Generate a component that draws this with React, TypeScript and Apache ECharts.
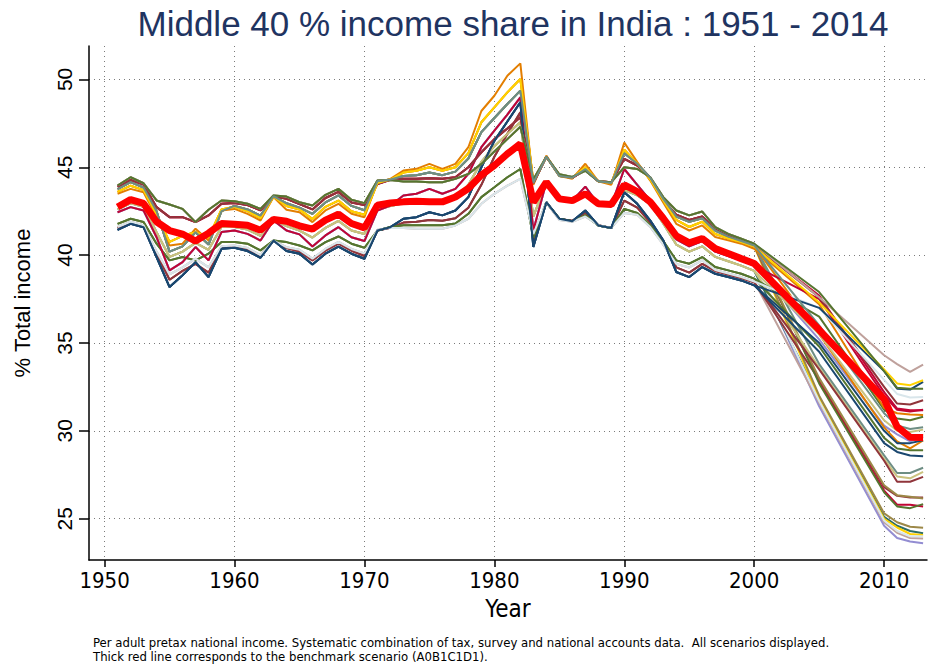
import React, { useEffect, useRef } from "react";
import * as echarts from "echarts";

// Years of the pre-2000 profiles, and of the post-2000 tails
const profileYears = [
  1951, 1952, 1953, 1954, 1955, 1956, 1957, 1958, 1959, 1960,
  1961, 1962, 1963, 1964, 1965, 1966, 1967, 1968, 1969, 1970,
  1971, 1972, 1973, 1974, 1975, 1976, 1977, 1978, 1979, 1980,
  1981, 1982, 1983, 1984, 1985, 1986, 1987, 1988, 1989, 1990,
  1991, 1992, 1993, 1994, 1995, 1996, 1997, 1998, 1999, 2000,
];
const tailYears = [2005, 2010, 2011, 2012, 2013];

// Scenario paths 1951-2000
const upperGreen = [
  43.96, 44.43, 44.09, 43.11, 42.88, 42.63, 41.88, 42.58, 43.11, 43.07,
  42.92, 42.63, 43.39, 43.33, 43.01, 42.82, 43.43, 43.77, 43.15, 42.96,
  44.24, 44.28, 44.19, 44.19, 44.15, 44.15, 44.34, 44.62, 45.19, 45.9,
  46.6, 47.3, 44.3, 45.6, 44.6, 44.45, 44.8, 44.2, 44.15, 45.0,
  44.9, 44.43, 43.3, 42.54, 42.26, 42.48, 41.59, 41.21, 40.93, 40.65,
];
const upperCranberry = [
  43.9, 44.28, 44.02, 42.73, 42.16, 42.16, 41.88, 42.26, 42.92, 42.96,
  42.85, 42.55, 43.35, 43.2, 42.9, 42.6, 43.25, 43.6, 43.0, 42.85,
  44.05, 44.28, 44.34, 44.34, 44.38, 44.34, 44.43, 45.0, 45.85, 46.6,
  47.2, 47.84, 44.1, 45.6, 44.55, 44.4, 44.85, 44.2, 44.15, 45.48,
  45.1, 44.4, 43.1, 42.3, 42.0, 42.2, 41.45, 41.1, 40.85, 40.55,
];
const upperOrange = [
  43.49, 43.77, 43.58, 42.16, 40.55, 40.65, 41.5, 40.83, 42.54, 42.63,
  42.35, 41.97, 43.3, 42.58, 42.44, 41.88, 42.54, 42.92, 42.35, 42.16,
  44.15, 44.34, 44.81, 44.91, 45.19, 44.91, 45.19, 46.14, 48.2, 49.07,
  50.21, 50.91, 44.0, 45.66, 44.5, 44.35, 45.2, 44.2, 44.0, 46.4,
  45.3, 44.24, 43.0, 41.78, 41.4, 41.69, 41.03, 40.84, 40.65, 40.36,
];
const upperGold = [
  43.6, 43.95, 43.7, 42.3, 40.75, 41.1, 41.3, 41.0, 42.6, 42.75,
  42.5, 42.1, 43.32, 42.8, 42.6, 42.05, 42.75, 43.1, 42.5, 42.3,
  44.1, 44.3, 44.7, 44.8, 45.0, 44.8, 45.0, 45.8, 47.56, 48.41,
  49.26, 50.02, 44.2, 45.6, 44.55, 44.4, 45.0, 44.2, 44.1, 46.0,
  45.2, 44.3, 43.1, 42.0, 41.6, 41.9, 41.2, 40.95, 40.75, 40.5,
];
const upperTeal = [
  43.75, 44.15, 43.85, 42.5, 40.2, 40.5, 41.3, 40.6, 42.5, 42.8,
  42.6, 42.25, 43.35, 42.95, 42.7, 42.35, 43.0, 43.4, 42.8, 42.55,
  44.2, 44.3, 44.5, 44.55, 44.7, 44.55, 44.75, 45.5, 47.0, 47.8,
  48.6, 49.36, 44.1, 45.6, 44.5, 44.4, 44.9, 44.2, 44.1, 45.8,
  45.2, 44.4, 43.2, 42.2, 41.9, 42.1, 41.4, 41.05, 40.8, 40.55,
];
const benchmark = [
  42.74, 43.16, 42.94, 41.9, 41.4, 41.2, 40.8, 41.25, 41.8, 41.76,
  41.7, 41.42, 42.03, 41.93, 41.67, 41.48, 41.99, 42.33, 41.8, 41.55,
  42.84, 42.97, 43.03, 43.07, 43.03, 43.03, 43.31, 43.79, 44.55, 45.1,
  45.76, 46.33, 43.01, 44.15, 43.2, 43.1, 43.49, 42.92, 42.88, 44.0,
  43.62, 43.02, 42.1, 41.1, 40.7, 40.94, 40.37, 40.09, 39.8, 39.52,
];
const middleLavender = [
  42.44, 42.73, 42.54, 41.02, 39.13, 39.6, 40.46, 39.7, 41.31, 41.4,
  41.21, 40.83, 41.97, 41.4, 41.18, 40.49, 41.12, 41.59, 41.02, 40.8,
  42.54, 42.82, 43.39, 43.49, 43.77, 43.49, 43.77, 44.62, 46.14, 47.08,
  48.0, 48.98, 41.4, 44.15, 43.2, 43.1, 43.9, 42.9, 42.85, 44.9,
  44.0, 43.1, 42.0, 40.9, 40.5, 40.8, 40.2, 39.95, 39.7, 39.4,
];
const middleKhaki = [
  42.6, 42.95, 42.75, 41.3, 39.9, 40.2, 40.7, 40.3, 41.6, 41.6,
  41.45, 41.1, 42.0, 41.65, 41.4, 41.0, 41.55, 41.95, 41.4, 41.2,
  42.6, 42.8, 42.95, 43.0, 43.05, 43.0, 43.3, 44.0, 45.3, 46.2,
  46.9, 47.56, 42.2, 44.1, 43.15, 43.05, 43.4, 42.9, 42.85, 43.7,
  43.4, 42.9, 41.8, 40.6, 40.2, 40.5, 39.9, 39.65, 39.4, 39.1,
];
const lowerGreen = [
  41.78, 42.07, 41.88, 40.65, 39.7, 39.89, 39.7, 40.08, 40.74, 40.74,
  40.65, 40.27, 40.83, 40.74, 40.55, 40.27, 40.74, 41.06, 40.65, 40.42,
  41.4, 41.6, 41.7, 41.7, 41.7, 41.7, 41.8, 42.35, 43.3, 43.86,
  44.43, 44.9, 41.0, 43.0, 42.07, 41.93, 42.26, 41.69, 41.54, 42.63,
  42.4, 41.69, 40.8, 39.7, 39.51, 39.89, 39.32, 39.13, 38.94, 38.66,
];
const lowerNavy = [
  41.44, 41.78, 41.59, 39.89, 38.18, 38.85, 39.6, 38.75, 40.36, 40.42,
  40.23, 39.85, 40.83, 40.23, 40.08, 39.47, 40.08, 40.49, 40.08, 39.79,
  41.4, 41.59, 42.07, 42.16, 42.44, 42.26, 42.54, 43.3, 45.0, 46.5,
  47.6, 48.7, 40.46, 43.01, 42.07, 41.93, 42.54, 41.69, 41.54, 43.58,
  42.92, 41.97, 40.84, 39.04, 38.75, 39.32, 38.94, 38.75, 38.56, 38.28,
];
const lowerMaroon = [
  41.55, 41.85, 41.65, 40.1, 38.6, 39.1, 39.5, 39.0, 40.45, 40.5,
  40.35, 39.95, 40.83, 40.4, 40.2, 39.7, 40.25, 40.65, 40.25, 39.95,
  41.4, 41.55, 41.85, 41.9, 42.0, 41.95, 42.1, 42.7, 44.0, 45.6,
  46.9, 48.13, 40.8, 43.0, 42.05, 41.95, 42.4, 41.7, 41.55, 43.1,
  42.7, 41.85, 40.8, 39.3, 39.0, 39.5, 39.1, 38.9, 38.7, 38.45,
];
const lowerPink = [
  41.6, 41.9, 41.7, 40.2, 38.9, 39.3, 39.8, 39.3, 40.5, 40.55,
  40.4, 40.0, 40.83, 40.45, 40.3, 39.8, 40.35, 40.75, 40.35, 40.1,
  41.45, 41.55, 41.54, 41.5, 41.5, 41.5, 41.69, 42.07, 42.92, 43.49,
  43.95, 44.34, 41.2, 43.0, 42.0, 41.9, 42.2, 41.7, 41.55, 42.4,
  42.3, 41.6, 40.6, 39.5, 39.3, 39.7, 39.15, 38.95, 38.75, 38.5,
];

// Scenario colours (Stata s2color palette)
const navy = "#1a476f";
const maroon = "#90353b";
const green = "#55752f";
const orange = "#e37e00";
const teal = "#6e8e84";
const cranberry = "#c10534";
const lavender = "#938dd2";
const khaki = "#cac27e";
const emerald = "#2d6d66";
const brown = "#9c8847";
const erose = "#bfa19c";
const gold = "#ffd200";
const bluishgray = "#d9e6eb";

// Each alternative scenario: colour, its 1951-2000 path, its 2005-2013 values
const scenarioColors = [
  lavender, erose, emerald, gold, brown, bluishgray, maroon, cranberry,
  green, brown, khaki, teal, maroon, navy, green, lavender,
  orange, navy, khaki, green, orange, cranberry, cranberry, maroon,
  bluishgray, navy, gold, erose, green, teal,
];
const scenarioPaths = [
  middleLavender, lowerPink, middleKhaki, upperGold, upperTeal, middleLavender, lowerMaroon, upperCranberry,
  upperGreen, upperTeal, middleKhaki, upperTeal, lowerMaroon, lowerNavy, lowerGreen, middleLavender,
  upperGold, lowerNavy, middleKhaki, lowerGreen, upperOrange, middleLavender, upperCranberry, upperCranberry,
  lowerPink, lowerNavy, upperGold, upperGreen, upperGreen, upperTeal,
];
const scenarioTails = [
  [31.4, 24.6, 23.9, 23.7, 23.6],
  [31.6, 24.8, 24.2, 23.9, 23.88],
  [31.9, 25.1, 24.6, 24.3, 24.17],
  [31.8, 25.0, 24.5, 24.13, 24.07],
  [32.0, 25.3, 24.8, 24.54, 24.49],
  [31.7, 24.9, 24.3, 24.0, 24.0],
  [32.9, 26.8, 26.3, 26.2, 26.2],
  [32.8, 26.6, 25.8, 25.8, 25.7],
  [32.7, 26.5, 25.7, 25.6, 25.83],
  [33.0, 26.9, 26.34, 26.25, 26.15],
  [33.6, 28.4, 27.4, 27.3, 27.67],
  [33.8, 28.6, 27.6, 27.6, 27.9],
  [33.5, 28.3, 27.1, 27.1, 27.38],
  [34.5, 29.3, 28.8, 28.6, 28.56],
  [34.8, 29.6, 29.0, 28.9, 28.9],
  [35.2, 30.3, 29.8, 29.4, 29.66],
  [35.5, 30.2, 29.4, 29.0, 29.45],
  [35.0, 30.0, 29.3, 29.3, 29.47],
  [35.5, 30.6, 30.0, 29.94, 30.07],
  [36.5, 31.2, 30.7, 30.6, 30.8],
  [37.2, 31.3, 31.0, 30.93, 30.9],
  [37.5, 32.0, 31.2, 31.1, 31.2],
  [37.7, 32.2, 31.27, 31.17, 31.17],
  [37.6, 32.5, 31.55, 31.5, 31.74],
  [37.0, 32.9, 32.1, 31.9, 31.93],
  [37.0, 33.4, 32.4, 32.35, 32.78],
  [37.3, 33.5, 32.7, 32.6, 32.88],
  [37.6, 34.3, 33.8, 33.35, 33.77],
  [37.9, 33.4, 32.45, 32.4, 32.4],
  [36.0, 31.0, 30.3, 30.1, 30.2],
];
const benchmarkTail = [35.75, 31.8, 30.23, 29.64, 29.62];

const xTicks = [1950, 1960, 1970, 1980, 1990, 2000, 2010];
const yTicks = [25, 30, 35, 40, 45, 50];

const titleText = "Middle 40 % income share in India : 1951 - 2014";
const noteLines = [
  "Per adult pretax national income. Systematic combination of tax, survey and national accounts data.  All scenarios displayed.",
  "Thick red line corresponds to the benchmark scenario (A0B1C1D1).",
];

function toPoints(path: number[], tail: number[]) {
  const pts: [number, number][] = profileYears.map((y, i) => [y, path[i]]);
  tailYears.forEach((y, i) => pts.push([y, tail[i]]));
  return pts;
}

const FONT_NARROW = "'Liberation Sans Narrow', 'Arial Narrow', 'DejaVu Sans Condensed', sans-serif";
const FONT_REG = "'Liberation Sans', Arial, Helvetica, sans-serif";

export default function App() {
  const ref = useRef<HTMLDivElement>(null);
  useEffect(() => {
    if (!ref.current) return;
    const chart = echarts.init(ref.current, undefined, { renderer: "svg" });
    const series: any[] = scenarioColors.map((c, i) => ({
      type: "line",
      data: toPoints(scenarioPaths[i], scenarioTails[i]),
      showSymbol: false,
      symbol: "none",
      lineStyle: { color: c, width: 2 },
      silent: true,
      z: 2,
    }));
    series.push({
      type: "line",
      data: toPoints(benchmark, benchmarkTail),
      showSymbol: false,
      symbol: "none",
      lineStyle: { color: "#ff0000", width: 7 },
      silent: true,
      z: 3,
    });
    const gridLine = { show: true, lineStyle: { color: "#7a7a7a", width: 1, type: [1, 4] as any } };
    chart.setOption({
      animation: false,
      backgroundColor: "#ffffff",
      grid: { left: 89, right: 5, top: 46, bottom: 108, containLabel: false },
      xAxis: {
        type: "value",
        min: 1948.8,
        max: 2013.3,
        name: "Year",
        nameLocation: "middle",
        nameGap: 37,
        nameTextStyle: { fontFamily: FONT_NARROW, fontSize: 24, color: "#000" },
        axisLine: { show: true, onZero: false, lineStyle: { color: "#000", width: 1.5 } },
        axisTick: { show: true, customValues: xTicks, length: 7, lineStyle: { color: "#000", width: 1.5 } },
        axisLabel: {
          customValues: xTicks,
          fontFamily: FONT_NARROW,
          fontSize: 22,
          color: "#000",
          margin: 9,
          formatter: (v: number) => String(v),
        },
        splitLine: gridLine,
      },
      yAxis: {
        type: "value",
        min: 22.65,
        max: 51.9,
        name: "% Total income",
        nameLocation: "middle",
        nameGap: 56,
        nameRotate: 90,
        nameTextStyle: { fontFamily: FONT_REG, fontSize: 22, color: "#000" },
        axisLine: { show: true, onZero: false, lineStyle: { color: "#000", width: 1.5 } },
        axisTick: { show: true, customValues: yTicks, length: 10, lineStyle: { color: "#000", width: 1.5 } },
        axisLabel: {
          customValues: yTicks,
          rotate: 90,
          fontFamily: FONT_REG,
          fontSize: 21,
          color: "#000",
          margin: 14,
          formatter: (v: number) => String(v),
        },
        splitLine: gridLine,
      },
      graphic: [
        {
          type: "text",
          x: 513,
          y: 23,
          style: {
            text: titleText,
            fill: "#1f3461",
            font: `35px ${FONT_REG}`,
            textAlign: "center",
            textVerticalAlign: "middle",
          },
        },
        {
          type: "text",
          x: 93,
          y: 642,
          style: {
            text: noteLines[0],
            fill: "#000",
            font: `13px ${FONT_NARROW}`,
            textAlign: "left",
            textVerticalAlign: "middle",
          },
        },
        {
          type: "text",
          x: 93,
          y: 656,
          style: {
            text: noteLines[1],
            fill: "#000",
            font: `13px ${FONT_NARROW}`,
            textAlign: "left",
            textVerticalAlign: "middle",
          },
        },
      ],
      series,
    });
    return () => chart.dispose();
  }, []);
  return <div ref={ref} style={{ width: 932, height: 668, position: "absolute", left: 0, top: 0 }} />;
}
